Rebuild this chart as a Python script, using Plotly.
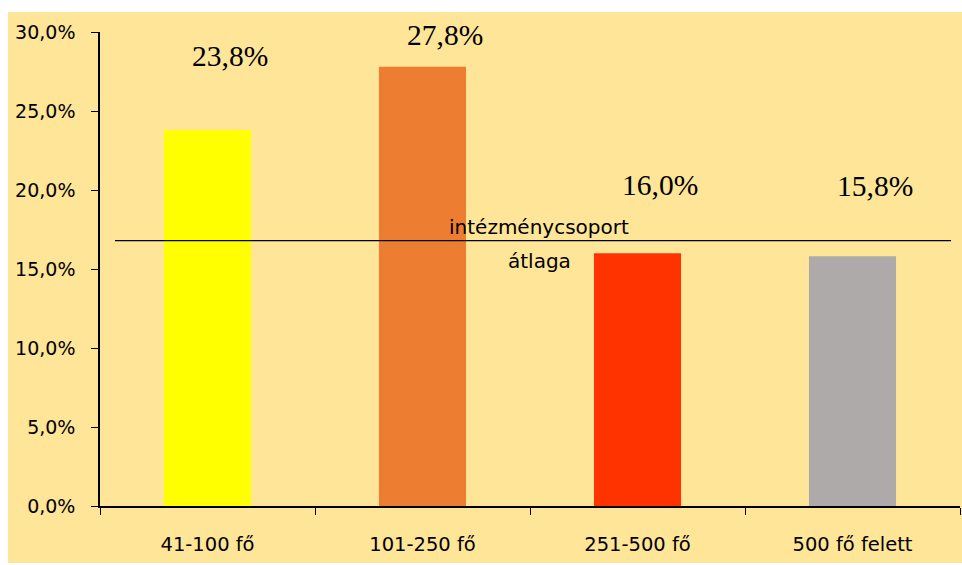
import plotly.graph_objects as go

categories = ["41-100 fő", "101-250 fő", "251-500 fő", "500 fő felett"]
values = [23.8, 27.8, 16.0, 15.8]
value_labels = ["23,8%", "27,8%", "16,0%", "15,8%"]
label_y = [28.5, 29.8, 20.3, 20.25]
colors = ["#FFFF00", "#ED7D31", "#FF3300", "#AEAAAA"]
average = 16.8
y_ticks = [0, 5, 10, 15, 20, 25, 30]
y_ticktext = ["0,0%", "5,0%", "10,0%", "15,0%", "20,0%", "25,0%", "30,0%"]

W, H = 962, 565
L, R, T, B = 100, 2, 32, 59
pw = W - L - R
ph = H - T - B

fig = go.Figure()
fig.add_trace(go.Bar(x=categories, y=values, marker=dict(color=colors, line=dict(width=0)),
                     width=0.405, hoverinfo="skip"))

def px_x(p):
    return (p - L) / pw

def px_y(p):
    return (H - B - p) / ph

# background panel
fig.add_shape(type="rect", xref="paper", yref="paper",
              x0=px_x(8), x1=px_x(962), y0=px_y(563), y1=px_y(12),
              fillcolor="#FFE598", line=dict(width=0), layer="below")
# average line
fig.add_shape(type="line", xref="paper", yref="y",
              x0=px_x(115), x1=px_x(951), y0=average, y1=average,
              line=dict(color="black", width=1.3))

for c, t, ly in zip(categories, value_labels, label_y):
    fig.add_annotation(x=c, y=ly, text=t, showarrow=False, xshift=22,
                       font=dict(family="Liberation Serif", size=29.5, color="black"))

fig.add_annotation(xref="paper", yref="paper", x=px_x(539), y=px_y(227),
                   text="intézménycsoport", showarrow=False,
                   font=dict(family="DejaVu Sans", size=20, color="black"))
fig.add_annotation(xref="paper", yref="paper", x=px_x(539), y=px_y(261),
                   text="átlaga", showarrow=False,
                   font=dict(family="DejaVu Sans", size=20, color="black"))

fig.update_layout(
    width=W, height=H,
    margin=dict(l=L, r=R, t=T, b=B, pad=0, autoexpand=False),
    paper_bgcolor="white",
    plot_bgcolor="rgba(0,0,0,0)",
    showlegend=False,
    font=dict(family="DejaVu Sans", size=19, color="black"),
    xaxis=dict(type="category", showline=True, linecolor="black", linewidth=1.5,
               ticks="outside", ticklen=7, tickwidth=1.3, tickcolor="black",
               tickson="boundaries", showgrid=False, zeroline=False,
               range=[-0.5, 3.5], ticklabelstandoff=20,
               tickfont=dict(family="DejaVu Sans", size=19.5)),
    yaxis=dict(range=[0, 30], tickvals=y_ticks, ticktext=y_ticktext,
               showline=True, linecolor="black", linewidth=1.5,
               ticks="outside", ticklen=7, tickwidth=1.3, tickcolor="black",
               showgrid=False, zeroline=False, ticklabelstandoff=12,
               tickfont=dict(family="DejaVu Sans", size=19)),
)

fig.write_html("out.html", config={"responsive": False, "displayModeBar": False},
               post_script="document.body.style.margin='0';document.body.style.overflow='hidden';")
